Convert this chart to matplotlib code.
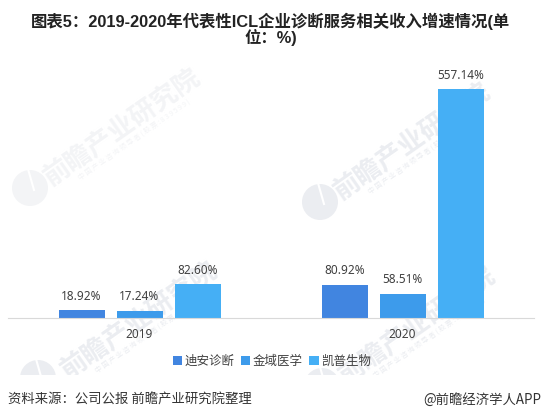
import matplotlib
matplotlib.use("Agg")
import matplotlib.pyplot as plt
from matplotlib.patches import Circle, Rectangle
import numpy as np

W, H = 542, 415
LATIN_FIRST = ['Noto Sans', 'Noto Sans CJK SC', 'DejaVu Sans']
TITLE_FONT = ['Liberation Sans', 'Noto Sans CJK SC', 'DejaVu Sans']
plt.rcParams['font.family'] = ['Noto Sans CJK SC', 'DejaVu Sans']

years = ['2019', '2020']
companies = ['迪安诊断', '金域医学', '凯普生物']
dian = [18.92, 80.92]
jinyu = [17.24, 58.51]
kaipu = [82.60, 557.14]
colors = ['#4185E0', '#3D9BEB', '#45AFF5']

fig = plt.figure(figsize=(W / 100, H / 100), dpi=100)

# background layer in pixel coordinates, only for the watermark
bg = fig.add_axes([0, 0, 1, 1], zorder=-1)
bg.set_xlim(0, W)
bg.set_ylim(H, 0)
bg.axis('off')
marks = [(122, 127, 30, 188, '#F3F4F6'), (412, 141, 320, 202, '#EBEDF1'),
         (139, 320, 38, 378, '#EBEDF1'), (417, 325, 322, 386, '#EBEDF1')]
for x, y, lx, ly, c in marks:
    bg.text(x, y, '前瞻产业研究院', fontsize=19, fontweight='bold', color=c, rotation=35, ha='center', va='center')
    bg.text(x + 12, y + 13, '中 国 产 业 咨 询 领 导 者 ( 股 票 : 8 3 9 5 9 9 )', fontsize=5, color=c,
            rotation=35, ha='center', va='center')
    bg.add_patch(Circle((lx, ly), 18, color=c, lw=0))
    bg.plot([lx - 2, lx + 4], [ly - 19, ly + 2], color='white', lw=1.5)
# watermark is cut off above the footer
bg.add_patch(Rectangle((0, 375), W, H - 375, color='white', lw=0, zorder=5))

ax = fig.add_axes([8 / W, 1 - 318 / H, 526 / W, 260 / H])
ax.patch.set_alpha(0)

series = [dian, jinyu, kaipu]
step = 58 / 263
width = 46 / 263
xpos = np.arange(len(years))
for i, vals in enumerate(series):
    off = (i - 1) * step
    bars = ax.bar(xpos + off, vals, width, color=colors[i], label=companies[i], zorder=2)
    for b, v in zip(bars, vals):
        ax.annotate(f'{v:.2f}%', (b.get_x() + b.get_width() / 2, v), xytext=(0, 14), textcoords='offset pixels',
                    ha='center', va='center', fontsize=8.5, color='#404040', family=LATIN_FIRST)

ax.set_xlim(-0.5, 1.5)
ax.set_ylim(0, 260 / 0.411)
ax.set_xticks(xpos)
ax.set_xticklabels(years, fontsize=8.5, color='#404040', family=LATIN_FIRST)
ax.tick_params(axis='x', length=0, pad=7.5)
ax.set_yticks([])
for s in ['top', 'left', 'right']:
    ax.spines[s].set_visible(False)
ax.spines['bottom'].set_color('#D9D9D9')
ax.spines['bottom'].set_linewidth(0.8)

fig.text(0.5, 1 - 21 / H, '图表5：2019-2020年代表性ICL企业诊断服务相关收入增速情况(单', fontsize=11.8, fontweight='bold',
         color='#222222', ha='center', va='center', family=TITLE_FONT)
fig.text(0.5, 1 - 38 / H, '位：%)', fontsize=11.8, fontweight='bold', color='#222222', ha='center', va='center', family=TITLE_FONT)

ax.legend(loc='center', bbox_to_anchor=(272 / W, 1 - 361 / H), bbox_transform=fig.transFigure, ncol=3, frameon=False,
          fontsize=9, handlelength=0.75, handleheight=0.75, handletextpad=0.2, columnspacing=0.5, labelcolor='#404040')

fig.text(8 / W, 1 - 400 / H, '资料来源：公司公报 前瞻产业研究院整理', fontsize=9.6, color='#333333', ha='left', va='center')
fig.text(541 / W, 1 - 400 / H, '@前瞻经济学人APP', fontsize=9.6, color='#333333', ha='right', va='center')

fig.savefig('out.png', dpi=100)
